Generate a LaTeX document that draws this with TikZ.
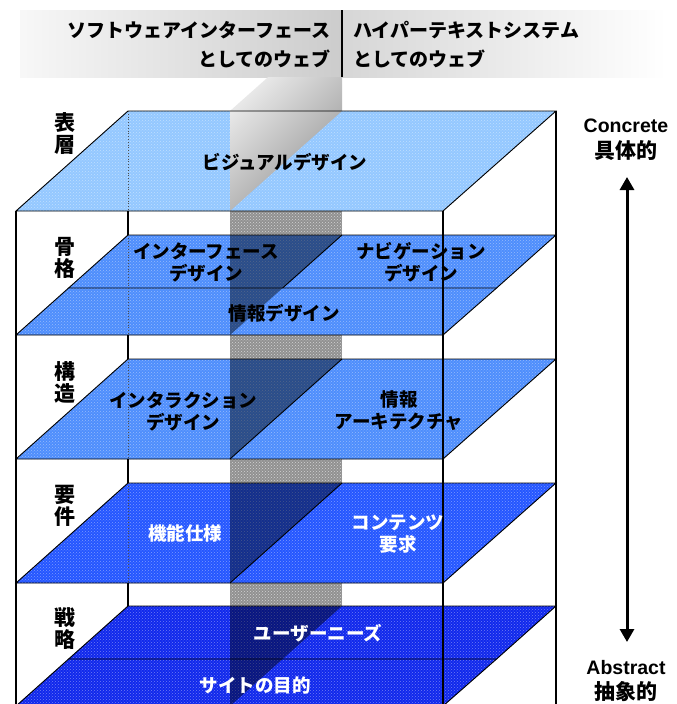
\documentclass[tikz,border=0pt]{standalone}
\usepackage{fontspec}
\setmainfont{Liberation Sans}
\newfontfamily\jp{Noto Sans CJK JP}
\usetikzlibrary{patterns,arrows.meta}
\definecolor{cA}{RGB}{148,200,255}
\definecolor{cB}{RGB}{78,142,252}
\definecolor{cC}{RGB}{36,86,255}
\definecolor{cD}{RGB}{16,40,236}
\definecolor{slabgap}{RGB}{145,145,145}
\tikzset{
  layer/.style={fill=#1, postaction={pattern=crosshatch dots, pattern color=white!40!#1}},
  gapfill/.style={fill=slabgap, postaction={pattern=crosshatch dots, pattern color=white!60!slabgap}},
  dark/.style={fill=black, opacity=.45},
  edge/.style={draw=black, line width=0.9pt},
  frame/.style={draw=black, line width=1.5pt},
  hidden/.style={draw=black!70, line width=0.8pt, dotted},
  lbl/.style={font=\jp\bfseries\fontsize{18.5}{22}\selectfont, align=center, inner sep=0pt},
  wlbl/.style={lbl, text=white},
  side/.style={font=\jp\bfseries\fontsize{21}{22}\selectfont, align=center, inner sep=0pt},
  head/.style={font=\jp\bfseries\fontsize{19}{29}\selectfont, inner sep=0pt},
  axis/.style={font=\bfseries\fontsize{19.5}{24}\selectfont, inner sep=0pt},
  axisjp/.style={font=\jp\bfseries\fontsize{21}{24}\selectfont, inner sep=0pt},
}
\begin{document}
\begin{tikzpicture}[x=1pt,y=-1pt]
\useasboundingbox (0,0) rectangle (677,704);
\fill[white] (0,0) rectangle (677,704);

% header band
\shade[left color=gray!6, right color=gray!40] (20,10) rectangle (342,77);
\shade[left color=gray!32, right color=white] (342,10) rectangle (666,77);
\draw[black, line width=1.4pt] (342,10) -- (342,77);
\node[head, anchor=east] (h1) at (331,30) {ソフトウェアインターフェース};
\node[head, anchor=east] (h2) at (331,59) {としてのウェブ};
\node[head, anchor=west] (h3) at (353,30) {ハイパーテキストシステム};
\node[head, anchor=west] (h4) at (353,59) {としてのウェブ};

% layer fills
\path[layer=cA] (128,111) -- (556,111) -- (443,211) -- (16,211) -- cycle;
\path[layer=cB] (128,235) -- (342,235) -- (282.6,288) -- (68.6,288) -- cycle;
\path[layer=cB] (342,235) -- (556,235) -- (496.6,288) -- (282.6,288) -- cycle;
\path[layer=cB] (68.6,288) -- (496.6,288) -- (443,335) -- (16,335) -- cycle;
\path[layer=cB] (128,359) -- (556,359) -- (443,459) -- (16,459) -- cycle;
\path[layer=cC] (128,483) -- (556,483) -- (443,583) -- (16,583) -- cycle;
\path[layer=cD] (128,606) -- (556,606) -- (496.6,659) -- (68.6,659) -- cycle;
\path[layer=cD] (68.6,659) -- (496.6,659) -- (443,706) -- (16,706) -- cycle;

% slab above top plane
\shade[top color=gray!18, bottom color=gray!85, shading angle=45]
  (230,211) -- (230,111) -- (268.2,77) -- (342,77) -- (342,111) -- cycle;

% slab in the gaps
\path[gapfill] (230,211) rectangle (342,235);
\path[gapfill] (230,335) rectangle (342,359);
\path[gapfill] (230,459) rectangle (342,483);
\path[gapfill] (230,583) rectangle (342,606);

% slab in front of the layers
\fill[dark] (230,235) -- (342,235) -- (230,335) -- cycle;
\fill[dark] (230,359) -- (342,359) -- (230,459) -- cycle;
\fill[dark] (230,483) -- (342,483) -- (230,583) -- cycle;
\fill[dark] (230,606) -- (342,606) -- (230,706) -- cycle;

% layer outlines
\draw[edge] (128,111) -- (556,111) -- (443,211) -- (16,211) -- cycle;
\draw[edge] (128,235) -- (556,235) -- (496.6,288) -- (68.6,288) -- cycle;
\draw[edge] (342,235) -- (282.6,288);
\draw[edge] (68.6,288) -- (16,335) -- (443,335) -- (496.6,288);
\draw[edge] (128,359) -- (556,359) -- (443,459) -- (16,459) -- cycle;
\draw[edge] (342,359) -- (230,459);
\draw[edge] (128,483) -- (556,483) -- (443,583) -- (16,583) -- cycle;
\draw[edge] (342,483) -- (230,583);
\draw[edge] (128,606) -- (556,606) -- (496.6,659) -- (68.6,659) -- cycle;
\draw[edge] (68.6,659) -- (16,706) (443,706) -- (496.6,659);

% box edges
\draw[frame] (16,211) -- (16,706);
\draw[frame] (443,211) -- (443,706);
\draw[frame] (556,111) -- (556,706);
\draw[frame] (128,211) -- (128,235);
\draw[frame] (128,335) -- (128,359);
\draw[frame] (128,459) -- (128,483);
\draw[frame] (128,583) -- (128,606);
\draw[hidden] (128,111) -- (128,211);
\draw[hidden] (128,235) -- (128,335);
\draw[hidden] (128,359) -- (128,459);
\draw[hidden] (128,483) -- (128,583);

% side labels
\node[side] (s1) at (65,134) {表\\層};
\node[side] (s2) at (65,258) {骨\\格};
\node[side] (s3) at (65,382) {構\\造};
\node[side] (s4) at (65,506) {要\\件};
\node[side] (s5) at (65,629) {戦\\略};

% layer labels
\node[lbl] (visual) at (285,162) {ビジュアルデザイン};
\node[lbl] (iface) at (206,262) {インターフェース\\デザイン};
\node[lbl] (navi) at (421,262) {ナビゲーション\\デザイン};
\node[lbl] (info) at (284,313) {情報デザイン};
\node[lbl] (inter) at (183,411) {インタラクション\\デザイン};
\node[lbl] (arch) at (399,411) {情報\\アーキテクチャ};
\node[wlbl] (func) at (185,533) {機能仕様};
\node[wlbl] (cont) at (398,534) {コンテンツ\\要求};
\node[wlbl] (needs) at (318,633) {ユーザーニーズ};
\node[wlbl] (goal) at (255,685) {サイトの目的};

% axis
\node[axis] (conc) at (626,126) {Concrete};
\node[axisjp] (conjp) at (626,151) {具体的};
\node[axis] (abst) at (626,668) {Abstract};
\node[axisjp] (absjp) at (626,692) {抽象的};
\coordinate (atop) at (627,177);
\coordinate (abot) at (627,642);
\draw[line width=3pt, {Triangle[width=14pt,length=13pt]}-{Triangle[width=14pt,length=13pt]}] (atop) -- (abot);
\end{tikzpicture}
\end{document}
